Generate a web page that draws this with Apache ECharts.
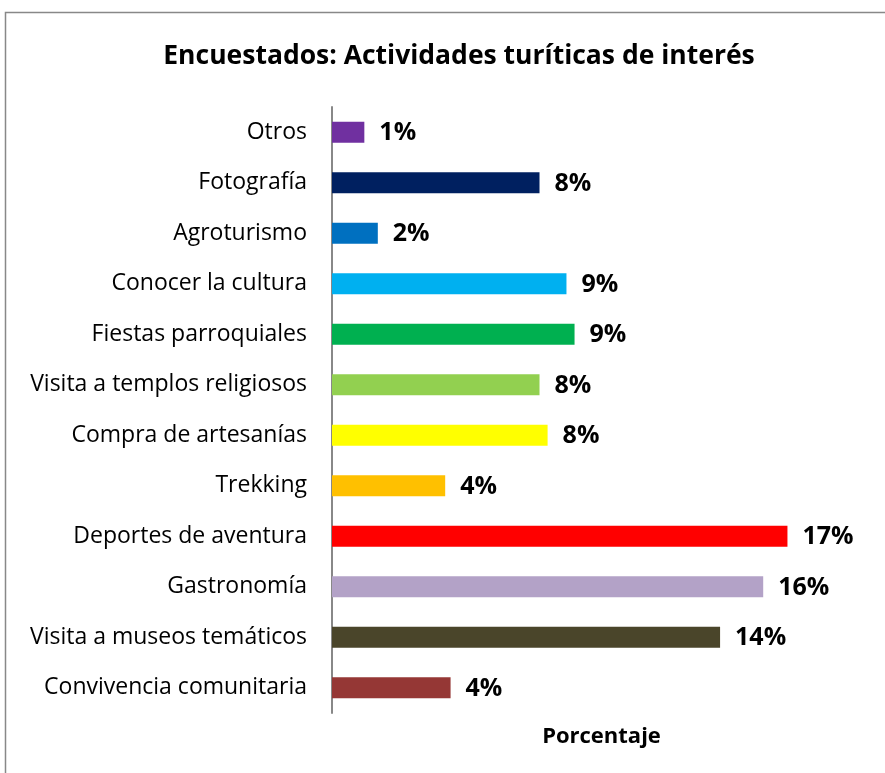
<!DOCTYPE html>
<html lang="es">
<head>
<meta charset="UTF-8">
<title>Encuestados</title>
<script src="https://cdn.jsdelivr.net/npm/echarts@6/dist/echarts.min.js"></script>
<style>
  html, body { margin: 0; padding: 0; background: #fff; }
  #main { width: 885px; height: 773px; }
</style>
</head>
<body>
<div id="main"></div>
<script>
// categorias (de abajo hacia arriba)
var categories = ['Convivencia comunitaria', 'Visita a museos temáticos', 'Gastronomía',
  'Deportes de aventura', 'Trekking', 'Compra de artesanías', 'Visita a templos religiosos',
  'Fiestas parroquiales', 'Conocer la cultura', 'Agroturismo', 'Fotografía', 'Otros'];
// porcentajes
var values = [4.4, 14.4, 16.0, 16.9, 4.2, 8.0, 7.7, 9.0, 8.7, 1.7, 7.7, 1.2];
var colors = ['#953735', '#4A452A', '#B3A2C7', '#FF0000', '#FFC000', '#FFFF00', '#92D050',
  '#00B050', '#00B0F0', '#0070C0', '#002060', '#7030A0'];

var font = '"Open Sans", sans-serif';
var chart = echarts.init(document.getElementById('main'));
var option = {
  animation: false,
  textStyle: { fontFamily: font },
  title: {
    text: 'Encuestados: Actividades turíticas de interés',
    left: 454, top: 38, textAlign: 'center',
    textStyle: { fontSize: 26.5, fontWeight: 'bold', color: '#000', fontFamily: font }
  },
  // marco
  graphic: [{
    type: 'rect', shape: { x: 5.5, y: 12.5, width: 900, height: 800 },
    style: { fill: 'none', stroke: '#888', lineWidth: 1.5 }, silent: true
  }],
  grid: { left: 332, right: 14, top: 107, bottom: 60 },
  xAxis: {
    type: 'value', min: 0, max: 20,
    name: 'Porcentaje', nameLocation: 'middle', nameGap: 13,
    nameTextStyle: { fontSize: 22, fontWeight: 'bold', color: '#000', fontFamily: font },
    axisLine: { show: false }, axisTick: { show: false },
    axisLabel: { show: false }, splitLine: { show: false }
  },
  yAxis: {
    type: 'category', data: categories,
    axisLine: { show: true, lineStyle: { color: '#888', width: 2 } },
    axisTick: { show: false },
    axisLabel: { fontSize: 23, color: '#000', margin: 25, fontFamily: font }
  },
  series: [{
    type: 'bar', barWidth: 21,
    data: values.map(function (v, i) {
      return { value: v, itemStyle: { color: colors[i] } };
    }),
    label: {
      show: true, position: 'right', distance: 15, offset: [0, 1],
      fontSize: 25, fontWeight: 'bold', color: '#000', fontFamily: font,
      formatter: function (p) { return Math.round(p.value) + '%'; }
    }
  }]
};
chart.setOption(option);
</script>
</body>
</html>
